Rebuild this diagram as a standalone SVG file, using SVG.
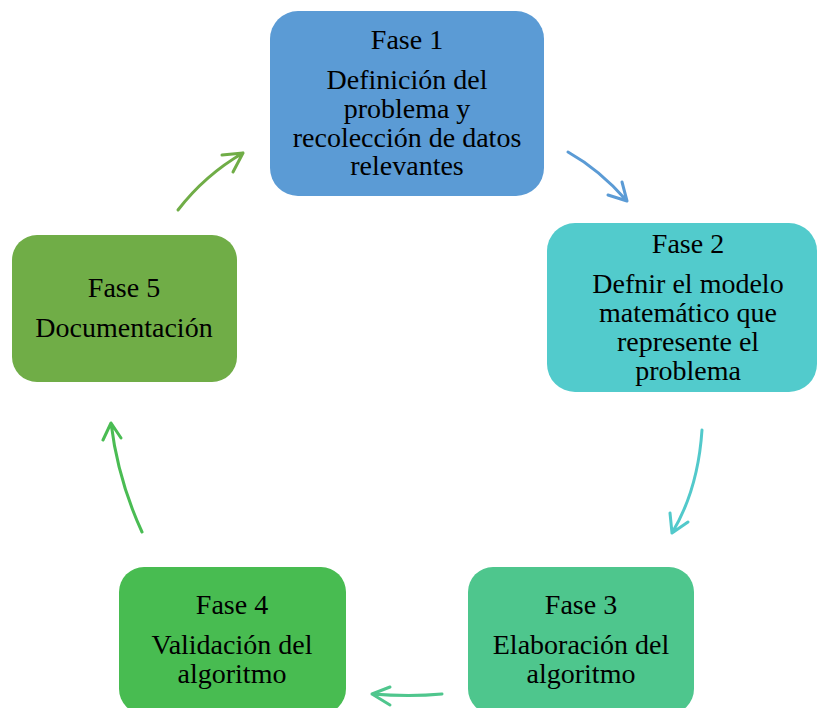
<svg xmlns="http://www.w3.org/2000/svg" width="819" height="708" viewBox="0 0 819 708">
<style>
.t{font-family:"Liberation Serif","Times New Roman",serif;font-size:28px;fill:#000;text-anchor:middle}
.c{fill:none;stroke-width:3;stroke-linecap:round;stroke-linejoin:round}
</style>
<rect width="819" height="708" fill="#fff"/>
<g id="connectors">
<path class="c" stroke="#5B9BD5" d="M568,152 Q600,170 627,201 M622,182 L627,201 L608,195"/>
<path class="c" stroke="#52C9CB" d="M702,430 Q698,490 672,533 M670,513 L672,533 L688,522"/>
<path class="c" stroke="#4FC68D" d="M442,694 Q410,697 372,694 M390,687 L372,694 L390,705"/>
<path class="c" stroke="#4ABC53" d="M142,532 Q118,480 111,423 M103,440 L111,423 L121,438"/>
<path class="c" stroke="#70AD47" d="M178,210 Q205,175 243,153 M222,155 L243,153 L233,172"/>
</g>
<g id="fase1">
<rect x="270" y="11" width="274" height="185" rx="28" fill="#5B9BD5"/>
<text class="t" x="407" y="49">Fase 1</text>
<text class="t" x="407" y="89">Definición del</text>
<text class="t" x="407" y="118">problema y</text>
<text class="t" x="407" y="147">recolección de datos</text>
<text class="t" x="407" y="175">relevantes</text>
</g>
<g id="fase2">
<rect x="547" y="223" width="270" height="169" rx="28" fill="#52CBCC"/>
<text class="t" x="688" y="253">Fase 2</text>
<text class="t" x="688" y="293">Defnir el modelo</text>
<text class="t" x="688" y="322">matemático que</text>
<text class="t" x="688" y="351">represente el</text>
<text class="t" x="688" y="380">problema</text>
</g>
<g id="fase3">
<rect x="468" y="567" width="226" height="147" rx="25" fill="#4EC68D"/>
<text class="t" x="581" y="614">Fase 3</text>
<text class="t" x="581" y="654">Elaboración del</text>
<text class="t" x="581" y="683">algoritmo</text>
</g>
<g id="fase4">
<rect x="119" y="567" width="227" height="147" rx="25" fill="#48BC51"/>
<text class="t" x="232" y="614">Fase 4</text>
<text class="t" x="232" y="654">Validación del</text>
<text class="t" x="232" y="683">algoritmo</text>
</g>
<g id="fase5">
<rect x="12" y="235" width="225" height="147" rx="25" fill="#70AD47"/>
<text class="t" x="124" y="297">Fase 5</text>
<text class="t" x="124" y="337">Documentación</text>
</g>
</svg>
